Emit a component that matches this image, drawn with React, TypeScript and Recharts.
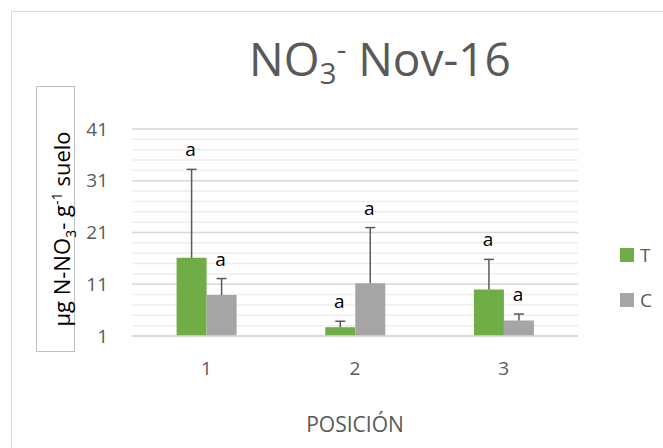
import React from 'react';
import {
  BarChart,
  Bar,
  XAxis,
  YAxis,
  CartesianGrid,
  Legend,
  LabelList,
} from 'recharts';

// values (µg N-NO3- g-1 suelo)
const categories = ['1', '2', '3'];
const tValues = [16.1, 2.7, 10.0];
const cValues = [8.9, 11.2, 4.0];
const tErrors = [17.1, 1.15, 5.8];
const cErrors = [3.2, 10.75, 1.25];
const significance = ['a', 'a', 'a'];
const yTicks = [1, 11, 21, 31, 41];
const minorTicks = [1, 3, 5, 7, 9, 11, 13, 15, 17, 19, 21, 23, 25, 27, 29, 31, 33, 35, 37, 39, 41];
const yDomain = [1, 41];

const FONT = '"Open Sans", sans-serif';
const GREEN = '#70AD47';
const GRAY = '#A5A5A5';
const TEXT = '#595959';

const data = categories.map((name, i) => ({
  name,
  T: tValues[i],
  C: cValues[i],
}));

// draws the upper whisker and the letter above it, scaled from the bar itself
const whisker = (errors: number[], base: number) => (props: any) => {
  const vb = props.viewBox || props;
  const { x, y, width, height } = vb;
  const v = Number(props.value);
  const idx = props.index;
  const pxPerUnit = height / (v - base);
  const top = y - errors[idx] * pxPerUnit;
  const cx = x + width / 2;
  return (
    <g>
      <line x1={cx} y1={y} x2={cx} y2={top} stroke={TEXT} strokeWidth={1.5} />
      <line x1={cx - 5} y1={top} x2={cx + 5} y2={top} stroke={TEXT} strokeWidth={1.5} />
      <text x={cx - 1} y={top - 13} textAnchor="middle" fontSize={19} fontFamily={FONT} fill="#000">
        {significance[idx]}
      </text>
    </g>
  );
};

// minor grid lines every 2 units
const minorLines = (props: any) => {
  const scale = props.yAxis && props.yAxis.scale;
  if (typeof scale === 'function') return minorTicks.map((t) => scale(t));
  const off = props.offset || {};
  const top = off.top ?? 0;
  const h = off.height ?? 0;
  return minorTicks.map((t) => top + (h * (yDomain[1] - t)) / (yDomain[1] - yDomain[0]));
};

const LegendBox = () => (
  <div style={{ fontFamily: FONT, fontSize: 19, color: TEXT, lineHeight: '20px' }}>
    {[
      { label: 'T', color: GREEN },
      { label: 'C', color: GRAY },
    ].map((item, i) => (
      <div key={item.label} style={{ display: 'flex', alignItems: 'center', marginTop: i ? 25 : 0 }}>
        <span style={{ width: 14, height: 14, background: item.color, display: 'inline-block', marginRight: 6 }} />
        <span>{item.label}</span>
      </div>
    ))}
  </div>
);

export default function App() {
  return (
    <div style={{ position: 'absolute', left: 0, top: 0, width: 663, height: 448, overflow: 'hidden', background: '#fff' }}>
      <div
        style={{
          position: 'absolute',
          left: 11,
          top: 11,
          width: 700,
          height: 500,
          border: '1.5px solid #D9D9D9',
        }}
      />
      <div
        style={{
          position: 'absolute',
          left: 380,
          top: 31,
          transform: 'translateX(-50%)',
          fontFamily: FONT,
          fontSize: 46,
          color: TEXT,
          whiteSpace: 'nowrap',
          lineHeight: 1.2,
        }}
      >
        NO<sub style={{ fontSize: '0.65em', verticalAlign: '-0.25em' }}>3</sub>
        <sup style={{ fontSize: '0.65em', verticalAlign: '0.55em' }}>-</sup> Nov-16
      </div>
      <div
        style={{
          position: 'absolute',
          left: 36,
          top: 86,
          width: 37,
          height: 264,
          border: '1.5px solid #BFBFBF',
        }}
      />
      <div
        style={{
          position: 'absolute',
          left: 63,
          top: 229,
          transform: 'translate(-50%, -50%) rotate(-90deg)',
          fontFamily: FONT,
          fontSize: 22,
          color: '#000',
          whiteSpace: 'nowrap',
        }}
      >
        µg N-NO<sub style={{ fontSize: '0.65em' }}>3</sub>- g<sup style={{ fontSize: '0.65em' }}>-1</sup> suelo
      </div>
      <div style={{ position: 'absolute', left: 0, top: 0 }}>
        <BarChart
          width={663}
          height={448}
          data={data}
          margin={{ top: 129, right: 85, bottom: 82, left: 72 }}
          barCategoryGap="30%"
          barGap={0}
        >
          <CartesianGrid
            vertical={false}
            stroke="#EDEDED"
            strokeWidth={1.5}
            horizontalCoordinatesGenerator={minorLines}
          />
          <YAxis
            domain={yDomain}
            ticks={yTicks}
            width={60}
            axisLine={false}
            tickLine={false}
            tickSize={0}
            tickMargin={24}
            tick={{ fill: TEXT, fontSize: 19, fontFamily: FONT }}
          />
          <CartesianGrid vertical={false} stroke="#D9D9D9" strokeWidth={1.5} />
          <XAxis
            dataKey="name"
            height={30}
            axisLine={{ stroke: '#D9D9D9', strokeWidth: 1.5 }}
            tickLine={false}
            tickSize={0}
            tickMargin={26}
            tick={{ fill: TEXT, fontSize: 19, fontFamily: FONT }}
            label={{ value: 'POSICIÓN', position: 'bottom', offset: 51, fill: TEXT, fontSize: 21, fontFamily: FONT }}
          />
          <Legend
            layout="vertical"
            align="center"
            verticalAlign="middle"
            wrapperStyle={{ left: 620, top: 245, width: 40 }}
            content={<LegendBox />}
          />
          <Bar dataKey="T" fill={GREEN} isAnimationActive={false}>
            <LabelList dataKey="T" content={whisker(tErrors, 1)} />
          </Bar>
          <Bar dataKey="C" fill={GRAY} isAnimationActive={false}>
            <LabelList dataKey="C" content={whisker(cErrors, 1)} />
          </Bar>
        </BarChart>
      </div>
    </div>
  );
}
